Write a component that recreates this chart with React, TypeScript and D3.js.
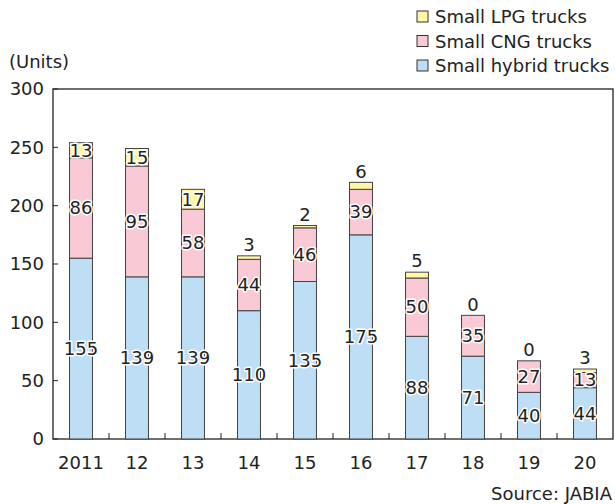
import React from "react";
import * as d3 from "d3";

const categories = ["2011", "12", "13", "14", "15", "16", "17", "18", "19", "20"];
const hybrid = [155, 139, 139, 110, 135, 175, 88, 71, 40, 44];
const cng = [86, 95, 58, 44, 46, 39, 50, 35, 27, 13];
const lpg = [13, 15, 17, 3, 2, 6, 5, 0, 0, 3];
const yTicks = [0, 50, 100, 150, 200, 250, 300];
const seriesNames = ["Small hybrid trucks", "Small CNG trucks", "Small LPG trucks"];
const seriesColors = ["#BDDEF4", "#F9C9D5", "#FFF6A8"];

const W = 615, H = 504;
const M = { left: 53, right: 613, top: 89, bottom: 439 };
const FONT = "DejaVu Sans, Verdana, sans-serif";
const FS = 18;

export default function App() {
  const x = d3.scaleBand<string>().domain(categories).range([M.left, M.right]).paddingInner(0.59).paddingOuter(0.295);
  const y = d3.scaleLinear().domain([0, 300]).range([M.bottom, M.top]);
  const series = [hybrid, cng, lpg];
  const rows = categories.map((c, i) => ({ cat: c, s0: hybrid[i], s1: cng[i], s2: lpg[i] }));
  const stack = d3.stack<any>().keys(["s0", "s1", "s2"])(rows);
  const step = (M.right - M.left) / categories.length;

  const halo = { paintOrder: "stroke" as const, stroke: "#fff", strokeWidth: 3, strokeLinejoin: "round" as const };

  return (
    <svg width={W} height={H} style={{ position: "absolute", left: 0, top: 0, background: "#fff" }} fontFamily={FONT}>
      <rect x={0} y={0} width={W} height={H} fill="#fff" />
      <rect x={M.left} y={M.top} width={M.right - M.left} height={M.bottom - M.top} fill="none" stroke="#222" strokeWidth={1.3} />
      {yTicks.map((t) => (
        <g key={t}>
          <line x1={M.left} x2={M.left + 5} y1={y(t)} y2={y(t)} stroke="#222" strokeWidth={1} />
          <text x={44} y={y(t)} dy="0.35em" textAnchor="end" fontSize={FS} fill="#222">{t}</text>
        </g>
      ))}
      {categories.map((c, i) => (
        <g key={c}>
          {i > 0 && <line x1={M.left + step * i} x2={M.left + step * i} y1={M.bottom} y2={M.bottom - 6} stroke="#222" strokeWidth={1} />}
          <text x={(x(c) as number) + x.bandwidth() / 2} y={463} dy="0.35em" textAnchor="middle" fontSize={FS} fill="#222">{c}</text>
        </g>
      ))}
      {stack.map((layer, si) => (
        <g key={si}>
          {layer.map((d, i) => {
            const bx = x(categories[i]) as number;
            const y0 = y(d[0]);
            const y1 = y(d[1]);
            return (
              <rect key={i} x={bx} y={y1} width={x.bandwidth()} height={Math.max(0, y0 - y1)} fill={seriesColors[si]} stroke="#444" strokeWidth={1} />
            );
          })}
        </g>
      ))}
      {stack.map((layer, si) => (
        <g key={"l" + si}>
          {layer.map((d, i) => {
            const v = series[si][i];
            const cx = (x(categories[i]) as number) + x.bandwidth() / 2;
            const inside = v >= 10;
            const ly = inside ? y((d[0] + d[1]) / 2) : y(d[1]) - 11;
            return (
              <text key={i} x={cx} y={ly} dy="0.35em" textAnchor="middle" fontSize={FS} fill="#222" style={inside ? halo : undefined}>{v}</text>
            );
          })}
        </g>
      ))}
      <text x={9} y={62} dy="0.35em" fontSize={FS} fill="#222">(Units)</text>
      {[2, 1, 0].map((si, k) => (
        <g key={si}>
          <rect x={417} y={11 + k * 24.5} width={11} height={11} fill={seriesColors[si]} stroke="#333" strokeWidth={1} />
          <text x={435} y={17 + k * 24.5} dy="0.35em" fontSize={FS} fill="#222">{seriesNames[si]}</text>
        </g>
      ))}
      <text x={612} y={494} dy="0.35em" textAnchor="end" fontSize={FS} fill="#222">Source: JABIA</text>
    </svg>
  );
}
